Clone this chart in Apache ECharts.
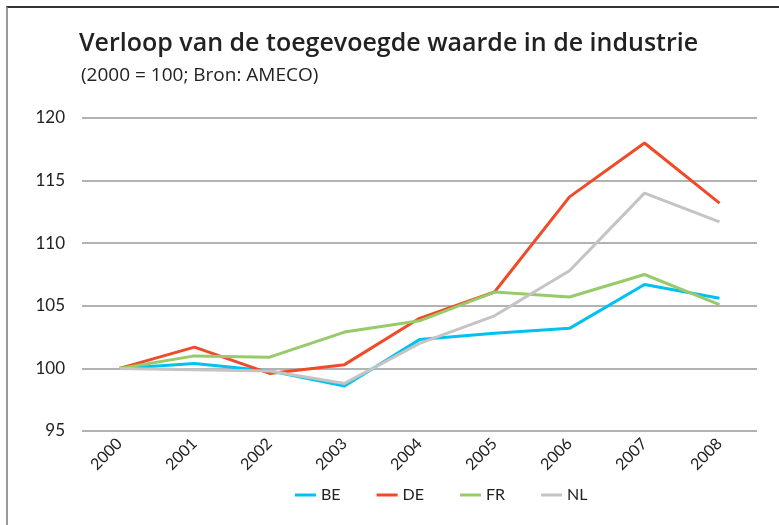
<!DOCTYPE html>
<html>
<head>
<meta charset="utf-8">
<script src="https://cdn.jsdelivr.net/npm/echarts@6/dist/echarts.min.js"></script>
<style>
  html, body { margin: 0; padding: 0; background: #fff; }
  #frame { position: absolute; left: 6px; top: 6px; width: 773px; height: 519px;
           border-top: 2px solid #333; border-left: 2px solid #999; box-sizing: border-box; }
  #chart { position: absolute; left: 0; top: 0; width: 779px; height: 525px; }
</style>
</head>
<body>
<div id="frame"></div>
<div id="chart"></div>
<script>
var years = ['2000', '2001', '2002', '2003', '2004', '2005', '2006', '2007', '2008'];
var be = [100, 100.4, 99.8, 98.6, 102.3, 102.8, 103.2, 106.7, 105.6];
var de = [100, 101.7, 99.6, 100.3, 104.0, 106.1, 113.7, 118.0, 113.2];
var fr = [100, 101.0, 100.9, 102.9, 103.8, 106.1, 105.7, 107.5, 105.1];
var nl = [100, 99.9, 99.8, 98.8, 102.0, 104.2, 107.8, 114.0, 111.7];

var myChart = echarts.init(document.getElementById('chart'));

function serie(name, color, data) {
    return {
        name: name,
        type: 'line',
        data: data,
        symbol: 'none',
        lineStyle: { width: 3, color: color },
        itemStyle: { color: color }
    };
}

option = {
    backgroundColor: 'transparent',
    textStyle: { fontFamily: 'Lato' },
    title: [{
        text: 'Verloop van de toegevoegde waarde in de industrie',
        left: 74,
        top: 26,
        textStyle: { fontSize: 25, fontWeight: 600, color: '#222', fontFamily: 'Open Sans' }
    }, {
        text: '(2000 = 100; Bron: AMECO)',
        left: 76,
        top: 61,
        textStyle: { fontSize: 19, fontWeight: 'normal', color: '#222', fontFamily: 'Open Sans' }
    }],
    legend: {
        data: ['BE', 'DE', 'FR', 'NL'],
        top: 482,
        left: 290,
        icon: 'rect',
        itemWidth: 21,
        itemHeight: 3,
        itemGap: 36,
        textStyle: { fontSize: 16, color: '#222' }
    },
    grid: {
        left: 82,
        right: 22,
        top: 118,
        bottom: 94
    },
    xAxis: {
        type: 'category',
        data: years,
        boundaryGap: true,
        axisLine: { show: false },
        axisTick: { show: false },
        axisLabel: {
            rotate: 45,
            margin: 10,
            fontSize: 16,
            color: '#222'
        }
    },
    yAxis: {
        type: 'value',
        min: 95,
        max: 120,
        interval: 5,
        axisLine: { show: false },
        axisTick: { show: false },
        axisLabel: { fontSize: 17, color: '#222', margin: 17 },
        splitLine: { lineStyle: { color: '#999', width: 1.5 } }
    },
    series: [
        serie('BE', '#00c1f2', be),
        serie('DE', '#f04a28', de),
        serie('FR', '#97cb69', fr),
        serie('NL', '#c4c4c4', nl)
    ]
};
myChart.setOption(option);
</script>
</body>
</html>
